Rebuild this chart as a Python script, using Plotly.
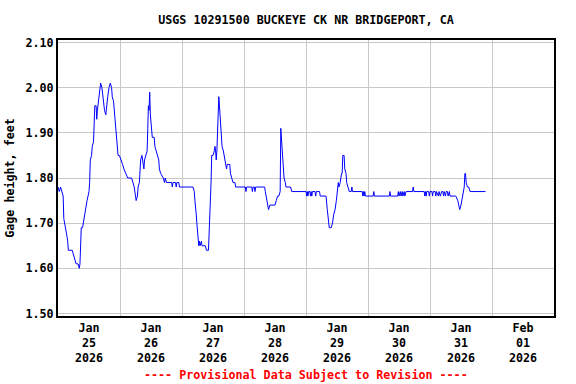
import plotly.graph_objects as go

# Gage height readings (time, feet)
times = [
    "2026-01-25 00:00", "2026-01-25 00:30", "2026-01-25 01:00", "2026-01-25 01:30", "2026-01-25 02:00",
    "2026-01-25 02:15", "2026-01-25 03:00", "2026-01-25 03:30", "2026-01-25 03:45", "2026-01-25 04:00",
    "2026-01-25 05:30", "2026-01-25 06:00", "2026-01-25 06:30", "2026-01-25 07:00", "2026-01-25 07:45",
    "2026-01-25 08:15", "2026-01-25 08:30", "2026-01-25 08:45", "2026-01-25 09:00", "2026-01-25 09:30",
    "2026-01-25 10:00", "2026-01-25 10:30", "2026-01-25 10:45", "2026-01-25 11:15", "2026-01-25 12:00",
    "2026-01-25 12:15", "2026-01-25 12:30", "2026-01-25 13:00", "2026-01-25 13:15", "2026-01-25 13:45",
    "2026-01-25 14:00", "2026-01-25 14:15", "2026-01-25 14:45", "2026-01-25 15:00", "2026-01-25 15:15",
    "2026-01-25 15:45", "2026-01-25 16:15", "2026-01-25 16:30", "2026-01-25 17:00", "2026-01-25 17:30",
    "2026-01-25 18:00", "2026-01-25 18:30", "2026-01-25 18:45", "2026-01-25 19:15", "2026-01-25 19:45",
    "2026-01-25 20:15", "2026-01-25 20:45", "2026-01-25 21:00", "2026-01-25 21:30", "2026-01-25 22:00",
    "2026-01-25 22:30", "2026-01-25 22:45", "2026-01-25 23:15", "2026-01-25 23:45",
    "2026-01-26 00:30", "2026-01-26 01:00", "2026-01-26 01:30", "2026-01-26 02:15", "2026-01-26 03:00",
    "2026-01-26 04:30", "2026-01-26 05:00", "2026-01-26 05:30", "2026-01-26 06:00", "2026-01-26 06:15",
    "2026-01-26 06:45", "2026-01-26 07:00", "2026-01-26 07:30", "2026-01-26 08:00", "2026-01-26 08:30",
    "2026-01-26 08:45", "2026-01-26 09:15", "2026-01-26 09:30", "2026-01-26 10:00", "2026-01-26 10:30",
    "2026-01-26 10:45", "2026-01-26 11:00", "2026-01-26 11:15", "2026-01-26 11:30", "2026-01-26 11:45",
    "2026-01-26 12:00", "2026-01-26 12:30", "2026-01-26 13:15", "2026-01-26 13:30", "2026-01-26 14:00",
    "2026-01-26 14:30", "2026-01-26 15:00", "2026-01-26 15:15", "2026-01-26 15:45", "2026-01-26 16:45",
    "2026-01-26 17:15", "2026-01-26 17:30", "2026-01-26 18:00", "2026-01-26 20:00", "2026-01-26 20:15",
    "2026-01-26 20:30", "2026-01-26 21:30", "2026-01-26 21:45", "2026-01-26 22:00", "2026-01-26 22:45",
    "2026-01-26 23:00",
    "2026-01-27 04:15", "2026-01-27 04:45", "2026-01-27 05:00", "2026-01-27 05:15", "2026-01-27 05:30",
    "2026-01-27 05:45", "2026-01-27 06:00", "2026-01-27 06:15", "2026-01-27 06:30", "2026-01-27 06:45",
    "2026-01-27 07:00", "2026-01-27 07:30", "2026-01-27 07:45", "2026-01-27 09:00", "2026-01-27 09:30",
    "2026-01-27 10:15", "2026-01-27 10:30", "2026-01-27 10:45", "2026-01-27 11:15", "2026-01-27 11:30",
    "2026-01-27 12:00", "2026-01-27 12:30", "2026-01-27 12:45", "2026-01-27 13:00", "2026-01-27 13:15",
    "2026-01-27 13:30", "2026-01-27 13:45", "2026-01-27 14:15", "2026-01-27 14:30", "2026-01-27 14:45",
    "2026-01-27 15:00", "2026-01-27 15:30", "2026-01-27 16:00", "2026-01-27 16:30", "2026-01-27 16:45",
    "2026-01-27 17:15", "2026-01-27 17:30", "2026-01-27 18:30", "2026-01-27 18:45", "2026-01-27 19:15",
    "2026-01-27 19:45", "2026-01-27 20:30", "2026-01-27 20:45",
    "2026-01-28 00:30", "2026-01-28 00:45", "2026-01-28 01:00", "2026-01-28 03:00", "2026-01-28 03:15",
    "2026-01-28 03:30", "2026-01-28 04:00", "2026-01-28 04:15", "2026-01-28 04:30", "2026-01-28 08:00",
    "2026-01-28 08:15", "2026-01-28 08:30", "2026-01-28 08:45", "2026-01-28 09:15", "2026-01-28 09:30",
    "2026-01-28 10:00", "2026-01-28 12:00", "2026-01-28 12:30", "2026-01-28 13:00", "2026-01-28 13:30",
    "2026-01-28 14:00", "2026-01-28 14:15", "2026-01-28 14:30", "2026-01-28 14:45", "2026-01-28 15:15",
    "2026-01-28 15:30", "2026-01-28 16:00", "2026-01-28 16:15", "2026-01-28 18:00", "2026-01-28 18:30",
    "2026-01-29 00:00", "2026-01-29 00:15", "2026-01-29 00:30", "2026-01-29 00:45", "2026-01-29 01:00",
    "2026-01-29 01:30", "2026-01-29 01:45", "2026-01-29 02:00", "2026-01-29 02:15", "2026-01-29 02:30",
    "2026-01-29 03:30", "2026-01-29 03:45", "2026-01-29 04:00", "2026-01-29 05:15", "2026-01-29 05:30",
    "2026-01-29 07:45", "2026-01-29 08:15", "2026-01-29 08:45", "2026-01-29 09:00", "2026-01-29 09:45",
    "2026-01-29 10:15", "2026-01-29 10:45", "2026-01-29 11:15", "2026-01-29 11:45", "2026-01-29 12:00",
    "2026-01-29 12:30", "2026-01-29 12:45", "2026-01-29 13:15", "2026-01-29 13:45", "2026-01-29 14:00",
    "2026-01-29 14:15", "2026-01-29 14:45", "2026-01-29 15:00", "2026-01-29 15:30", "2026-01-29 15:45",
    "2026-01-29 16:15", "2026-01-29 16:45", "2026-01-29 17:30", "2026-01-29 17:45", "2026-01-29 18:00",
    "2026-01-29 21:45", "2026-01-29 22:00", "2026-01-29 22:15", "2026-01-29 22:30", "2026-01-29 22:45",
    "2026-01-29 23:00", "2026-01-29 23:30",
    "2026-01-30 00:30", "2026-01-30 02:00", "2026-01-30 02:15", "2026-01-30 02:30", "2026-01-30 08:15",
    "2026-01-30 08:30", "2026-01-30 08:45", "2026-01-30 11:30", "2026-01-30 11:45", "2026-01-30 12:00",
    "2026-01-30 12:30", "2026-01-30 12:45", "2026-01-30 13:15", "2026-01-30 13:30", "2026-01-30 14:00",
    "2026-01-30 14:15", "2026-01-30 14:45", "2026-01-30 17:15", "2026-01-30 17:30", "2026-01-30 17:45",
    "2026-01-30 21:45", "2026-01-30 22:00", "2026-01-30 22:15", "2026-01-30 22:30", "2026-01-30 22:45",
    "2026-01-30 23:30", "2026-01-30 23:45",
    "2026-01-31 00:00", "2026-01-31 00:45", "2026-01-31 01:00", "2026-01-31 01:15", "2026-01-31 02:00",
    "2026-01-31 02:15", "2026-01-31 02:30", "2026-01-31 03:15", "2026-01-31 03:30", "2026-01-31 04:00",
    "2026-01-31 04:30", "2026-01-31 05:00", "2026-01-31 05:15", "2026-01-31 05:30", "2026-01-31 06:00",
    "2026-01-31 06:15", "2026-01-31 06:45", "2026-01-31 07:00", "2026-01-31 07:30", "2026-01-31 07:45",
    "2026-01-31 10:00", "2026-01-31 10:45", "2026-01-31 11:15", "2026-01-31 11:30", "2026-01-31 12:00",
    "2026-01-31 12:30", "2026-01-31 13:00", "2026-01-31 13:15", "2026-01-31 13:30", "2026-01-31 13:45",
    "2026-01-31 14:00", "2026-01-31 14:30", "2026-01-31 15:00", "2026-01-31 15:30", "2026-01-31 21:30",
]

gage_height = [
    1.78, 1.77, 1.78, 1.77, 1.76,
    1.71, 1.69, 1.67, 1.66, 1.64,
    1.64, 1.63, 1.62, 1.61, 1.61,
    1.60, 1.61, 1.64, 1.69, 1.69,
    1.71, 1.73, 1.74, 1.75, 1.77,
    1.79, 1.84, 1.85, 1.87, 1.88,
    1.92, 1.96, 1.96, 1.93, 1.95,
    1.97, 2.00, 2.01, 2.00, 1.97,
    1.95, 1.94, 1.96, 1.98, 2.00,
    2.01, 2.00, 1.98, 1.97, 1.94,
    1.90, 1.88, 1.85, 1.85,
    1.84, 1.83, 1.82, 1.81, 1.80,
    1.80, 1.79, 1.78, 1.76, 1.75,
    1.76, 1.78, 1.79, 1.84, 1.85,
    1.84, 1.82, 1.84, 1.85, 1.86,
    1.91, 1.96, 1.95, 1.99, 1.94,
    1.92, 1.89, 1.89, 1.87, 1.86,
    1.85, 1.84, 1.82, 1.81, 1.80,
    1.79, 1.80, 1.79, 1.79, 1.78,
    1.79, 1.79, 1.78, 1.79, 1.79,
    1.78,
    1.78, 1.77, 1.75, 1.74, 1.72,
    1.70, 1.68, 1.66, 1.65, 1.66,
    1.65, 1.66, 1.65, 1.65, 1.64,
    1.64, 1.67, 1.72, 1.79, 1.85,
    1.85, 1.86, 1.87, 1.86, 1.84,
    1.86, 1.91, 1.98, 1.96, 1.94,
    1.91, 1.87, 1.86, 1.84, 1.83,
    1.82, 1.83, 1.83, 1.81, 1.80,
    1.79, 1.79, 1.78,
    1.78, 1.77, 1.78, 1.78, 1.77,
    1.78, 1.78, 1.77, 1.78, 1.78,
    1.77, 1.76, 1.75, 1.73, 1.73,
    1.74, 1.74, 1.75, 1.76, 1.76,
    1.77, 1.91, 1.89, 1.85, 1.82,
    1.80, 1.79, 1.78, 1.78, 1.77,
    1.77, 1.76, 1.77, 1.76, 1.77,
    1.77, 1.76, 1.77, 1.76, 1.77,
    1.77, 1.76, 1.77, 1.77, 1.76,
    1.76, 1.73, 1.71, 1.69, 1.69,
    1.70, 1.72, 1.73, 1.75, 1.77,
    1.79, 1.78, 1.79, 1.81, 1.81,
    1.85, 1.85, 1.82, 1.81, 1.79,
    1.78, 1.77, 1.77, 1.78, 1.77,
    1.77, 1.76, 1.77, 1.76, 1.77,
    1.76, 1.76,
    1.76, 1.76, 1.77, 1.76, 1.76,
    1.77, 1.76, 1.76, 1.77, 1.76,
    1.77, 1.76, 1.77, 1.76, 1.77,
    1.76, 1.77, 1.77, 1.78, 1.77,
    1.77, 1.76, 1.77, 1.76, 1.77,
    1.77, 1.76,
    1.77, 1.77, 1.76, 1.77, 1.77,
    1.76, 1.77, 1.76, 1.77, 1.76,
    1.77, 1.77, 1.76, 1.77, 1.76,
    1.77, 1.77, 1.76, 1.77, 1.76,
    1.76, 1.75, 1.73, 1.73, 1.74,
    1.76, 1.77, 1.78, 1.81, 1.81,
    1.79, 1.78, 1.78, 1.77, 1.77,
]

assert len(times) == len(gage_height), (len(times), len(gage_height))

y_ticks = [1.50, 1.60, 1.70, 1.80, 1.90, 2.00, 2.10]
y_tick_labels = ["1.50", "1.60", "1.70", "1.80", "1.90", "2.00", "2.10"]

FONT = "DejaVu Sans Mono"
FS = 11.7

fig = go.Figure()
fig.add_trace(go.Scatter(
    x=times, y=gage_height, mode="lines",
    line=dict(color="#0000FF", width=1),
    hoverinfo="skip", showlegend=False,
))

fig.update_layout(
    width=576, height=384,
    margin=dict(l=58, r=22, t=40, b=68),
    paper_bgcolor="white", plot_bgcolor="white",
    font=dict(family=FONT, size=FS, color="black"),
    showlegend=False,
    title=dict(text="<b>USGS 10291500 BUCKEYE CK NR BRIDGEPORT, CA</b>",
               x=0.5, xref="paper", xanchor="center",
               y=1 - 20 / 384, yref="container", yanchor="middle",
               font=dict(family=FONT, size=FS, color="black")),
)

fig.update_xaxes(
    type="date", automargin=False,
    range=["2026-01-25 00:00", "2026-02-02 00:00"],
    tick0="2026-01-25", dtick=86400000,
    ticklabelmode="period",
    tickformat="<b>%b</b><br><b>%d</b><br><b>%Y</b>",
    showgrid=True, gridcolor="#c8c8c8", gridwidth=1,
    showline=True, linecolor="black", linewidth=2, mirror=True,
    ticks="", zeroline=False,
    tickfont=dict(family=FONT, size=FS, color="black"),
)
fig.update_yaxes(
    automargin=False,
    range=[1.4945, 2.1055],
    tickvals=y_ticks, ticktext=["<b>%s</b>" % t for t in y_tick_labels],
    showgrid=True, gridcolor="#c8c8c8", gridwidth=1,
    showline=True, linecolor="black", linewidth=2, mirror=True,
    ticks="", zeroline=False,
    tickfont=dict(family=FONT, size=FS, color="black"),
    title=dict(text="<b>Gage height, feet</b>", standoff=8,
               font=dict(family=FONT, size=FS, color="black")),
)

fig.add_annotation(
    text="<b>---- Provisional Data Subject to Revision ----</b>",
    xref="paper", yref="paper", x=0.5, y=-(375 - 316) / 276,
    xanchor="center", yanchor="middle", showarrow=False,
    font=dict(family=FONT, size=FS, color="red"),
)

fig.write_html("out.html", config={"displayModeBar": False},
               post_script="document.body.style.margin='0';")
